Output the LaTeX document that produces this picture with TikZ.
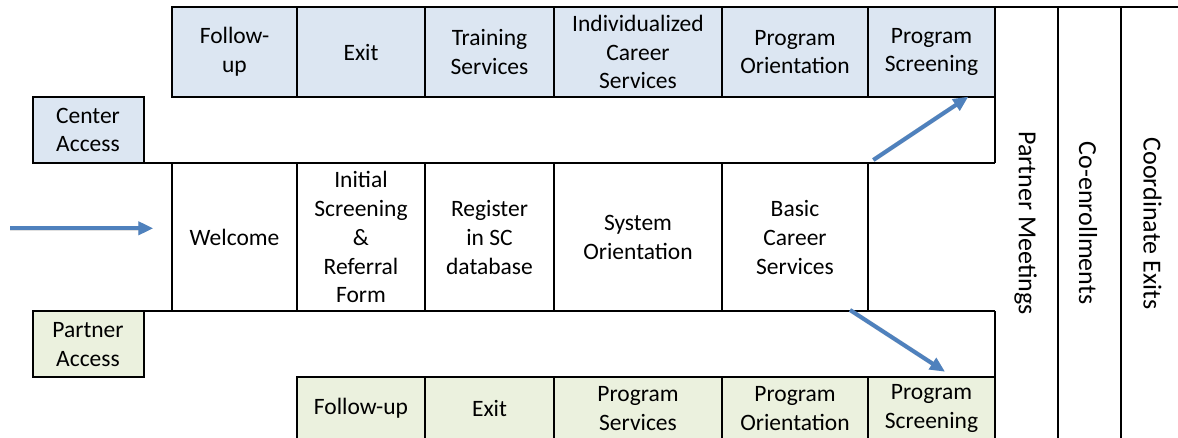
\documentclass[tikz,border=0pt]{standalone}
\usepackage{fontspec}
\setmainfont{Carlito}
\usetikzlibrary{arrows.meta}
\definecolor{cblue}{HTML}{DCE6F2}
\definecolor{cgreen}{HTML}{EBF1DE}
\definecolor{arrowblue}{HTML}{4F81BD}
\begin{document}
\begin{tikzpicture}[x=1pt,y=-1pt,
  cell/.style={draw=black, line width=2pt, rectangle, inner sep=0pt, align=center,
    font=\fontsize{23.5}{28.7}\selectfont},
  bluecell/.style={cell, fill=cblue},
  greencell/.style={cell, fill=cgreen},
  border/.style={draw=black, line width=2pt},
  vtext/.style={rotate=-90, inner sep=0pt, font=\fontsize{26}{31}\selectfont},
  flow/.style={draw=arrowblue, line width=4pt, -{Triangle[length=15pt,width=13pt]}},
  flowshadow/.style={draw=black!35, opacity=0.35, line width=4.5pt, -{Triangle[length=15pt,width=13pt]}}
]
\useasboundingbox (0,0) rectangle (1178,437);

% column lines on the right
\draw[border] (172,7.3) -- (1190,7.3);
\draw[border] (1058,7.3) -- (1058,445);
\draw[border] (1121,7.3) -- (1121,445);

% band lines
\draw[border] (995,96.7) -- (995,163.3);
\draw[border] (32.5,163.3) -- (995,163.3);
\draw[border] (32.5,311.3) -- (995,311.3);
\draw[border] (995,311.3) -- (995,377);

% top row (center)
\node[bluecell, minimum width=125pt, minimum height=89.4pt] (t1) at (234.5,52) {Follow-\\up};
\node[bluecell, minimum width=128pt, minimum height=89.4pt] (t2) at (361,52) {Exit};
\node[bluecell, minimum width=129pt, minimum height=89.4pt] (t3) at (489.5,52) {Training\\Services};
\node[bluecell, minimum width=168pt, minimum height=89.4pt] (t4) at (638,52) {Individualized\\Career\\Services};
\node[bluecell, minimum width=146pt, minimum height=89.4pt] (t5) at (795,52) {Program\\Orientation};
\node[bluecell, minimum width=127pt, minimum height=89.4pt] (t6) at (931.5,52) {Program\\Screening};

% access boxes
\node[bluecell, minimum width=111pt, minimum height=66.6pt] (ca) at (88,130) {Center\\Access};
\node[greencell, minimum width=111pt, minimum height=65.7pt] (pa) at (88,344.2) {Partner\\Access};

% middle row
\node[cell, minimum width=125pt, minimum height=148pt] (m1) at (234.5,237.3) {Welcome};
\node[cell, minimum width=128pt, minimum height=148pt] (m2) at (361,237.3) {Initial\\Screening\\\&\\Referral\\Form};
\node[cell, minimum width=129pt, minimum height=148pt] (m3) at (489.5,237.3) {Register\\in SC\\database};
\node[cell, minimum width=168pt, minimum height=148pt] (m4) at (638,237.3) {System\\Orientation};
\node[cell, minimum width=146pt, minimum height=148pt] (m5) at (795,237.3) {Basic\\Career\\Services};

% bottom row (partner)
\node[greencell, minimum width=128pt, minimum height=62.5pt] (b2) at (361,408.25) {Follow-up};
\node[greencell, minimum width=129pt, minimum height=62.5pt] (b3) at (489.5,408.25) {Exit};
\node[greencell, minimum width=168pt, minimum height=62.5pt] (b4) at (638,408.25) {Program\\Services};
\node[greencell, minimum width=146pt, minimum height=62.5pt] (b5) at (795,408.25) {Program\\Orientation};
\node[greencell, minimum width=127pt, minimum height=62.5pt] (b6) at (931.5,408.25) {Program\\Screening};

% vertical texts
\node[vtext] (pm) at (1025.5,223) {Partner Meetings};
\node[vtext] (ce) at (1088,223) {Co-enrollments};
\node[vtext] (cx) at (1152.5,223.5) {Coordinate Exits};

% arrows
\coordinate (a0) at (10,228.3);
\coordinate (a1) at (153.3,228.3);
\coordinate (u0) at (873.3,160);
\coordinate (u1) at (968.3,96.7);
\coordinate (d0) at (850,310);
\coordinate (d1) at (945,371.7);
\begin{scope}[shift={(1.5pt,-2.5pt)}]
\draw[flowshadow] (a0) -- (a1);
\draw[flowshadow] (u0) -- (u1);
\draw[flowshadow] (d0) -- (d1);
\end{scope}
\draw[flow] (a0) -- (a1);
\draw[flow] (u0) -- (u1);
\draw[flow] (d0) -- (d1);
\end{tikzpicture}
\end{document}
